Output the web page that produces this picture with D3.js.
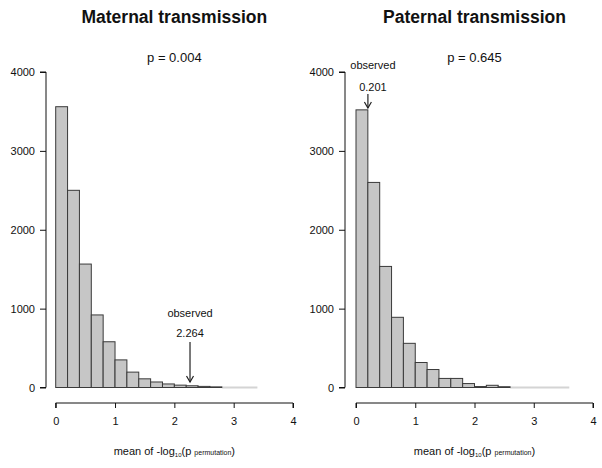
<!DOCTYPE html>
<html><head><meta charset="utf-8">
<script src="https://cdn.jsdelivr.net/npm/d3@7"></script>
<style>body{margin:0;background:#fff}svg{display:block}text{font-family:"Liberation Sans",Arial,sans-serif;fill:#111}</style>
</head><body>
<script>
const binWidth = 0.2;
const maternalCounts = [3560, 2500, 1565, 920, 580, 350, 195, 110, 70, 45, 30, 22, 14, 8, 0, 0, 0];
const paternalCounts = [3520, 2600, 1535, 890, 560, 317, 228, 115, 115, 50, 12, 28, 10, 0, 0, 0, 0, 0];
const panelTitles = ["Maternal transmission", "Paternal transmission"];
const pLabels = ["p = 0.004", "p = 0.645"];
const observedValues = [2.264, 0.201];
const observedLabels = ["2.264", "0.201"];
const xTicks = [0, 1, 2, 3, 4];
const yTicks = [0, 1000, 2000, 3000, 4000];

const W = 602, H = 468;
const svg = d3.select("body").append("svg").attr("width", W).attr("height", H);

const panels = [
  {counts: maternalCounts, title: panelTitles[0], p: pLabels[0], obs: observedValues[0], obsLabel: observedLabels[0],
   x0: 55.7, x1: 293, yAxisX: 46, labelDx: 0, obsTextY: 317, valTextY: 337, arrowTop: 342, arrowBot: 382},
  {counts: paternalCounts, title: panelTitles[1], p: pLabels[1], obs: observedValues[1], obsLabel: observedLabels[1],
   x0: 356, x1: 593, yAxisX: 345, labelDx: 5, obsTextY: 69, valTextY: 91, arrowTop: 94, arrowBot: 108}
];

panels.forEach(pn => {
  const g = svg.append("g");
  const x = d3.scaleLinear().domain([0, 4]).range([pn.x0, pn.x1]);
  const y = d3.scaleLinear().domain([0, 4000]).range([387.5, 72]);
  const cx = (pn.x0 + pn.x1) / 2;

  g.append("text").attr("x", cx).attr("y", 23).attr("text-anchor", "middle")
    .style("font-size", "17.5px").style("font-weight", "bold").text(pn.title);
  g.append("text").attr("x", cx).attr("y", 61.5).attr("text-anchor", "middle")
    .style("font-size", "13px").text(pn.p);

  const bins = pn.counts.map((c, i) => ({x0: i * binWidth, x1: (i + 1) * binWidth, c}));
  const zero = bins.filter(b => b.c === 0);
  if (zero.length) {
    g.append("line").attr("x1", x(zero[0].x0)).attr("x2", x(zero[zero.length - 1].x1))
      .attr("y1", y(0)).attr("y2", y(0)).attr("stroke", "#d4d4d4").attr("stroke-width", 2);
  }
  g.selectAll("rect.bar").data(bins.filter(b => b.c > 0)).join("rect").attr("class", "bar")
    .attr("x", d => x(d.x0)).attr("width", d => x(d.x1) - x(d.x0))
    .attr("y", d => y(d.c)).attr("height", d => y(0) - y(d.c))
    .attr("fill", "#c6c6c6").attr("stroke", "#3a3a3a").attr("stroke-width", 1);

  const ya = g.append("g").attr("transform", `translate(${pn.yAxisX},0)`)
    .call(d3.axisLeft(y).tickValues(yTicks).tickSize(6).tickPadding(5).tickFormat(d3.format("d")));
  ya.select(".domain").attr("d", `M-6,${y(4000)}H0V${y(0)}H-6`).attr("stroke", "#111");
  ya.selectAll("text").style("font-size", "11px").style("font-family", "Liberation Sans, Arial, sans-serif").attr("fill", "#111");
  ya.selectAll("line").attr("stroke", "#111");

  const xa = g.append("g").attr("transform", `translate(0,403)`)
    .call(d3.axisBottom(x).tickValues(xTicks).tickSize(5).tickPadding(9).tickFormat(d3.format("d")));
  xa.select(".domain").attr("d", `M${x(0)},5V0H${x(4)}V5`).attr("stroke", "#111");
  xa.selectAll("text").style("font-size", "11px").style("font-family", "Liberation Sans, Arial, sans-serif").attr("fill", "#111");
  xa.selectAll("line").attr("stroke", "#111");

  const t = g.append("text").attr("x", cx).attr("y", 455).attr("text-anchor", "middle").style("font-size", "11px");
  t.append("tspan").text("mean of -log");
  t.append("tspan").attr("dy", 2).style("font-size", "6px").text("10");
  t.append("tspan").attr("dy", -2).text("(p ");
  t.append("tspan").style("font-size", "7px").text("permutation");
  t.append("tspan").text(")");

  const ox = x(pn.obs);
  g.append("text").attr("x", ox + pn.labelDx).attr("y", pn.obsTextY).attr("text-anchor", "middle")
    .style("font-size", "11px").text("observed");
  g.append("text").attr("x", ox + pn.labelDx).attr("y", pn.valTextY).attr("text-anchor", "middle")
    .style("font-size", "11px").text(pn.obsLabel);
  g.append("line").attr("x1", ox).attr("x2", ox).attr("y1", pn.arrowTop).attr("y2", pn.arrowBot)
    .attr("stroke", "#222").attr("stroke-width", 1.2);
  g.append("path").attr("d", `M${ox - 3.5},${pn.arrowBot - 6}L${ox},${pn.arrowBot}L${ox + 3.5},${pn.arrowBot - 6}`)
    .attr("fill", "none").attr("stroke", "#222").attr("stroke-width", 1.2);
});
</script>
</body></html>
